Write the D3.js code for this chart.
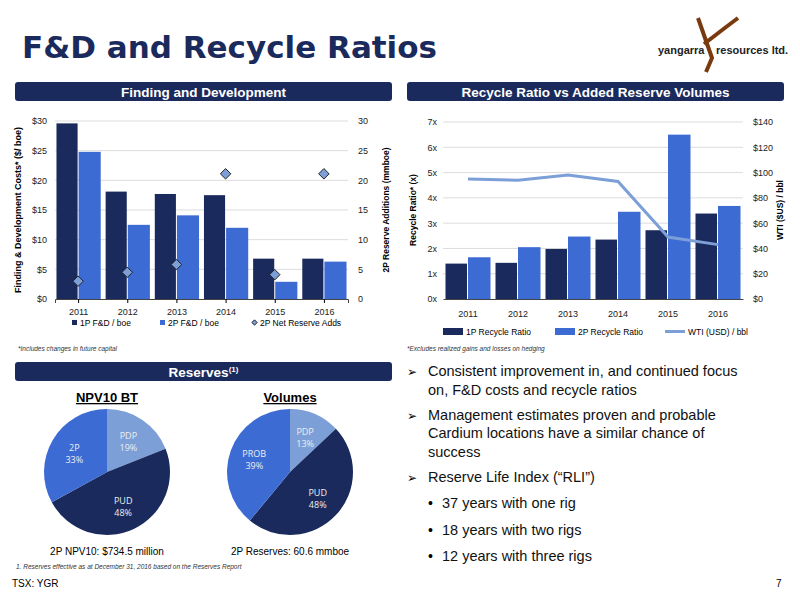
<!DOCTYPE html>
<html><head><meta charset="utf-8">
<script src="https://cdn.jsdelivr.net/npm/d3@7"></script>
<style>body{margin:0;background:#fff}svg{font-family:"Liberation Sans",Arial,sans-serif}</style>
</head><body><svg width="800" height="600"></svg>
<script>
var years = ["2011", "2012", "2013", "2014", "2015", "2016"];
var fd1P = [29.6, 18.1, 17.7, 17.5, 6.8, 6.8];
var fd2P = [24.8, 12.5, 14.1, 12.0, 2.9, 6.3];
var netAdds = [3.0, 4.5, 5.8, 21.1, 4.1, 21.1];
var rr1P = [1.4, 1.43, 1.98, 2.35, 2.72, 3.38];
var rr2P = [1.65, 2.05, 2.47, 3.45, 6.5, 3.68];
var wti = [95, 94, 98, 93, 49, 43];
var npvLabels = ["PDP", "PUD", "2P"], npvShares = [19, 48, 33];
var volLabels = ["PDP", "PUD", "PROB"], volShares = [13, 48, 39];
var bullets = [
  {lines: ["Consistent improvement in, and continued focus", "on, F&D costs and recycle ratios"], arrow: true},
  {lines: ["Management estimates proven and probable", "Cardium locations have a similar chance of", "success"], arrow: true},
  {lines: ["Reserve Life Index (\u201cRLI\u201d)"], arrow: true},
  {lines: ["37 years with one rig"], arrow: false},
  {lines: ["18 years with two rigs"], arrow: false},
  {lines: ["12 years with three rigs"], arrow: false}
];

var NAVY = "#1b2a5c", BLUE = "#3d6bd4", LIGHT = "#7c9fd8", GRID = "#dcdcdc";
var svg = d3.select("svg");

// title + logo
svg.append("text").attr("x", 22).attr("y", 58).attr("font-size", 31).attr("font-weight", "bold")
  .attr("font-family", "DejaVu Sans").attr("fill", NAVY).text("F&D and Recycle Ratios");
svg.append("path").attr("d", "M698,18 L712,58 L706,72 M704,44 Q722,30 738,18")
  .attr("stroke", "#7a3a10").attr("stroke-width", 4).attr("fill", "none");
svg.append("text").attr("x", 658).attr("y", 54).attr("font-size", 11).attr("font-weight", "bold")
  .attr("fill", "#222").text("yangarra");
svg.append("text").attr("x", 716).attr("y", 54).attr("font-size", 11).attr("font-weight", "bold")
  .attr("fill", "#222").text("resources ltd.");

function banner(x, y, w, label, sup) {
  svg.append("rect").attr("x", x).attr("y", y).attr("width", w).attr("height", 19).attr("rx", 3).attr("fill", NAVY);
  var t = svg.append("text").attr("x", x + w / 2).attr("y", y + 14.5).attr("text-anchor", "middle")
    .attr("font-size", 13.5).attr("font-weight", "bold").attr("fill", "#fff").text(label);
  if (sup) t.append("tspan").attr("font-size", 8).attr("dy", -5).text(sup);
}
banner(15, 82, 377, "Finding and Development");
banner(407, 82, 377, "Recycle Ratio vs Added Reserve Volumes");
banner(15, 362, 377, "Reserves", "(1)");

// ---- F&D chart
var x1 = d3.scaleBand().domain(years).range([55, 348]).paddingInner(0.1).paddingOuter(0.03);
var yL = d3.scaleLinear().domain([0, 30]).range([299, 121]);
var yR = d3.scaleLinear().domain([0, 30]).range([299, 121]);
var g1 = svg.append("g").attr("font-size", 9);
g1.append("g").selectAll("line").data(yL.ticks(6).slice(1)).join("line")
  .attr("x1", 55).attr("x2", 348).attr("y1", yL).attr("y2", yL).attr("stroke", GRID);
var bw = x1.bandwidth() / 2;
g1.append("g").selectAll("rect").data(fd1P).join("rect")
  .attr("x", (d, i) => x1(years[i])).attr("width", bw - 1).attr("y", yL).attr("height", d => 299 - yL(d)).attr("fill", NAVY);
g1.append("g").selectAll("rect").data(fd2P).join("rect")
  .attr("x", (d, i) => x1(years[i]) + bw).attr("width", bw).attr("y", yL).attr("height", d => 299 - yL(d)).attr("fill", BLUE);
g1.append("g").selectAll("path").data(netAdds).join("path")
  .attr("transform", (d, i) => "translate(" + (x1(years[i]) + bw - 0.5) + "," + yR(d) + ")")
  .attr("d", d3.symbol(d3.symbolDiamond2, 70)).attr("fill", LIGHT).attr("stroke", "#222").attr("stroke-width", 1);
var axL = g1.append("g").attr("transform", "translate(55,0)").call(d3.axisLeft(yL).ticks(6).tickFormat(d => "$" + d).tickSize(0).tickPadding(8));
var axR = g1.append("g").attr("transform", "translate(348,0)").call(d3.axisRight(yR).ticks(6).tickSize(0).tickPadding(10));
var axB = g1.append("g").attr("transform", "translate(0,299)").call(d3.axisBottom(x1).tickSize(4).tickPadding(6));
[axL, axR, axB].forEach(a => { a.select(".domain").attr("stroke", "#444"); a.selectAll("text").attr("font-size", 9).attr("fill", "#222"); });
axL.select(".domain").attr("stroke", "none"); axR.select(".domain").attr("stroke", "none");
svg.append("text").attr("transform", "translate(21,210) rotate(-90)").attr("text-anchor", "middle")
  .attr("font-size", 9).attr("font-weight", "bold").text("Finding & Development Costs* ($/ boe)");
svg.append("text").attr("transform", "translate(389,210) rotate(-90)").attr("text-anchor", "middle")
  .attr("font-size", 8.5).attr("font-weight", "bold").text("2P Reserve Additions (mmboe)");
var leg1 = [["1P F&D / boe", NAVY, "r", 72], ["2P F&D / boe", BLUE, "r", 160], ["2P Net Reserve Adds", LIGHT, "d", 252]];
leg1.forEach(l => {
  if (l[2] === "r") svg.append("rect").attr("x", l[3]).attr("y", 320).attr("width", 5).attr("height", 5).attr("fill", l[1]);
  else svg.append("path").attr("transform", "translate(" + (l[3] + 2.5) + ",322.5)").attr("d", d3.symbol(d3.symbolDiamond2, 18)).attr("fill", l[1]).attr("stroke", "#222");
  svg.append("text").attr("x", l[3] + 8).attr("y", 326).attr("font-size", 8.5).text(l[0]);
});
svg.append("text").attr("x", 18).attr("y", 351).attr("font-size", 6.5).attr("font-style", "italic").attr("fill", "#333").text("*Includes changes in future capital");

// ---- Recycle chart
var x2 = d3.scaleBand().domain(years).range([443, 743]).paddingInner(0.1).paddingOuter(0.05);
var y2 = d3.scaleLinear().domain([0, 7]).range([299, 122]);
var y2r = d3.scaleLinear().domain([0, 140]).range([299, 122]);
var g2 = svg.append("g");
g2.append("g").selectAll("line").data(d3.range(1, 8)).join("line")
  .attr("x1", 443).attr("x2", 743).attr("y1", y2).attr("y2", y2).attr("stroke", GRID);
var bw2 = x2.bandwidth() / 2;
g2.append("g").selectAll("rect").data(rr1P).join("rect")
  .attr("x", (d, i) => x2(years[i])).attr("width", bw2 - 1).attr("y", y2).attr("height", d => 299 - y2(d)).attr("fill", NAVY);
g2.append("g").selectAll("rect").data(rr2P).join("rect")
  .attr("x", (d, i) => x2(years[i]) + bw2).attr("width", bw2).attr("y", y2).attr("height", d => 299 - y2(d)).attr("fill", BLUE);
g2.append("path").datum(wti).attr("fill", "none").attr("stroke", LIGHT).attr("stroke-width", 3)
  .attr("d", d3.line().x((d, i) => x2(years[i]) + bw2).y(d => y2r(d)));
var a2L = g2.append("g").attr("transform", "translate(443,0)").call(d3.axisLeft(y2).ticks(7).tickFormat(d => d + "x").tickSize(0).tickPadding(6));
var a2R = g2.append("g").attr("transform", "translate(743,0)").call(d3.axisRight(y2r).ticks(7).tickFormat(d => "$" + d).tickSize(0).tickPadding(10));
var a2B = g2.append("g").attr("transform", "translate(0,299)").call(d3.axisBottom(x2).tickSize(0).tickPadding(12));
[a2L, a2R, a2B].forEach(a => { a.selectAll("text").attr("font-size", 9).attr("fill", "#222"); });
a2L.select(".domain").attr("stroke", "none"); a2R.select(".domain").attr("stroke", "none");
a2B.select(".domain").attr("stroke", "#444");
svg.append("text").attr("transform", "translate(416,210) rotate(-90)").attr("text-anchor", "middle")
  .attr("font-size", 8.5).attr("font-weight", "bold").text("Recycle Ratio* (x)");
svg.append("text").attr("transform", "translate(783,210) rotate(-90)").attr("text-anchor", "middle")
  .attr("font-size", 8.5).attr("font-weight", "bold").text("WTI ($US) / bbl");
var leg2 = [["1P Recycle Ratio", NAVY, 443], ["2P Recycle Ratio", BLUE, 555], ["WTI (USD) / bbl", LIGHT, 665]];
leg2.forEach(l => {
  svg.append("rect").attr("x", l[2]).attr("y", l[0].startsWith("WTI") ? 330 : 328).attr("width", 20).attr("height", l[0].startsWith("WTI") ? 3 : 7).attr("fill", l[1]);
  svg.append("text").attr("x", l[2] + 23).attr("y", 335).attr("font-size", 8.5).text(l[0]);
});
svg.append("text").attr("x", 407).attr("y", 351).attr("font-size", 6.5).attr("font-style", "italic").attr("fill", "#333").text("*Excludes realized gains and losses on hedging");

// ---- pies
var pieColor = [LIGHT, NAVY, BLUE];
function drawPie(cx, cy, labels, shares, title, caption) {
  var arcs = d3.pie().sort(null)(shares);
  var arc = d3.arc().innerRadius(0).outerRadius(63);
  var lab = d3.arc().innerRadius(38).outerRadius(38);
  var g = svg.append("g").attr("transform", "translate(" + cx + "," + cy + ")");
  g.selectAll("path").data(arcs).join("path").attr("d", arc).attr("fill", (d, i) => pieColor[i]);
  var lg = g.selectAll("g.lab").data(arcs).join("g").attr("class", "lab")
    .attr("transform", d => "translate(" + lab.centroid(d) + ")");
  lg.append("text").attr("text-anchor", "middle").attr("y", -2)
    .attr("font-family", "Open Sans").attr("font-size", 9).attr("fill", "#eee").text((d, i) => labels[i]);
  lg.append("text").attr("text-anchor", "middle").attr("y", 10)
    .attr("font-family", "Open Sans").attr("font-size", 9).attr("fill", "#eee").text((d, i) => shares[i] + "%");
  svg.append("text").attr("x", cx).attr("y", 402).attr("text-anchor", "middle").attr("font-size", 13)
    .attr("font-weight", "bold").attr("text-decoration", "underline").text(title);
  svg.append("text").attr("x", cx).attr("y", 555).attr("text-anchor", "middle").attr("font-size", 10).text(caption);
}
drawPie(107, 472, npvLabels, npvShares, "NPV10 BT", "2P NPV10: $734.5 million");
drawPie(290, 472, volLabels, volShares, "Volumes", "2P Reserves: 60.6 mmboe");
svg.append("text").attr("x", 16).attr("y", 569).attr("font-size", 6.5).attr("font-style", "italic").attr("fill", "#333")
  .text("1.  Reserves effective as at December 31, 2016 based on the Reserves Report");
svg.append("text").attr("x", 12).attr("y", 587).attr("font-size", 10).text("TSX: YGR");
svg.append("text").attr("x", 776).attr("y", 587).attr("font-size", 10).text("7");

// ---- bullets
var by = 376;
bullets.forEach((b, i) => {
  if (b.arrow) {
    svg.append("text").attr("x", 407).attr("y", by).attr("font-size", 12).attr("font-family", "DejaVu Sans").text("\u27a2");
  } else {
    svg.append("text").attr("x", 428).attr("y", by).attr("font-size", 14).text("\u2022");
  }
  b.lines.forEach((ln, j) => {
    svg.append("text").attr("x", b.arrow ? 428 : 442).attr("y", by + j * 18.5).attr("font-size", 14.5)
      .attr("fill", "#111").text(ln);
  });
  by += (b.lines.length - 1) * 18.5 + (i < 2 ? 25 : 26.5);
});
</script></body></html>
